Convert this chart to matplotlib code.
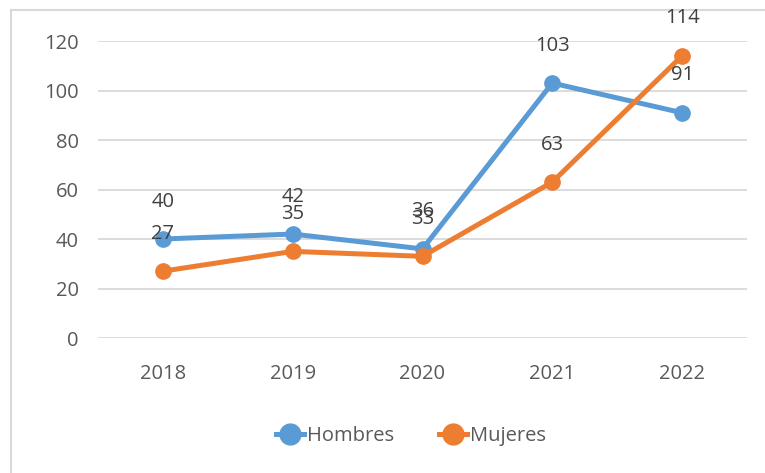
import matplotlib.pyplot as plt
from matplotlib.lines import Line2D

years = ['2018', '2019', '2020', '2021', '2022']
hombres = [40, 42, 36, 103, 91]
mujeres = [27, 35, 33, 63, 114]
yticks = [0, 20, 40, 60, 80, 100, 120]

BLUE = '#5B9BD5'
ORANGE = '#ED7D31'
GRID = '#D9D9D9'
TICK = '#595959'
LABEL = '#404040'

plt.rcParams['font.family'] = ['Open Sans', 'DejaVu Sans']

fig = plt.figure(figsize=(7.65, 4.73), dpi=100)

# outer chart border (left and top edges visible)
fig.add_artist(Line2D([10.5 / 765, 10.5 / 765], [0, 1 - 10 / 473], color=GRID, lw=1.5, zorder=0))
fig.add_artist(Line2D([10.5 / 765, 1], [1 - 10 / 473, 1 - 10 / 473], color=GRID, lw=1.5, zorder=0))

ax = fig.add_axes([98 / 765, 1 - 338 / 473, (747 - 98) / 765, (338 - 41) / 473])
ax.patch.set_alpha(0)

x = list(range(len(years)))
ax.plot(x, hombres, color=BLUE, lw=3.6, marker='o', ms=11, label='Hombres', zorder=3)
ax.plot(x, mujeres, color=ORANGE, lw=3.6, marker='o', ms=11, label='Mujeres', zorder=3)

# data labels above each point
for series in (hombres, mujeres):
    for xi, v in zip(x, series):
        ax.annotate(str(v), (xi, v), xytext=(0, 27), textcoords='offset points',
                    ha='center', va='center', fontsize=14.5, color=LABEL, zorder=4,
                    annotation_clip=False)

ax.set_xlim(-0.5, len(years) - 0.5)
ax.set_ylim(0, 120)
ax.set_xticks(x)
ax.set_xticklabels(years)
ax.set_yticks(yticks)
ax.tick_params(length=0, labelsize=14.5, labelcolor=TICK)
ax.tick_params(axis='x', pad=19)
ax.tick_params(axis='y', pad=14)
ax.grid(axis='y', color=GRID, lw=1.3)
ax.set_axisbelow(True)
for s in ax.spines.values():
    s.set_visible(False)

handles = [Line2D([], [], color=BLUE, lw=3.6, marker='o', ms=15),
           Line2D([], [], color=ORANGE, lw=3.6, marker='o', ms=15)]
fig.legend(handles, ['Hombres', 'Mujeres'], loc='center', bbox_to_anchor=(0.537, 1 - 436 / 473),
           ncol=2, frameon=False, fontsize=14.5, labelcolor=TICK, handlelength=1.4,
           handletextpad=0.15, columnspacing=2.2)

fig.savefig('out.png', dpi=100)
